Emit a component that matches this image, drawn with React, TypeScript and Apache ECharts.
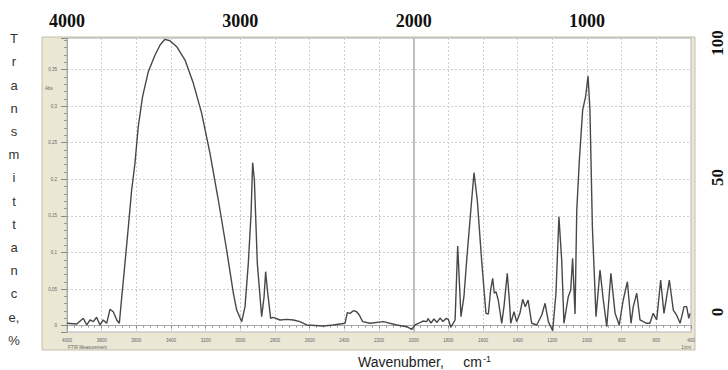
import React, { useEffect, useRef } from "react";
import * as echarts from "echarts";

// Spectrum (wavenumber in cm-1, inner "Abs" scale)
const wavenumber = [
  4000, 3944, 3906, 3886, 3867, 3848, 3829, 3810, 3791, 3771, 3752, 3733, 3713, 3698,
  3684, 3671, 3646, 3627, 3608, 3589, 3564, 3531, 3492, 3463, 3435, 3406, 3367, 3319,
  3271, 3223, 3175, 3127, 3079, 3040, 3021, 2992, 2973, 2954, 2938, 2929, 2919, 2902,
  2877, 2863, 2854, 2844, 2825, 2810, 2771, 2733, 2694, 2656, 2617, 2521, 2464, 2396,
  2383, 2367, 2348, 2329, 2314, 2294, 2252, 2175, 2098, 2040, 2011, 1992, 1963, 1946,
  1925, 1917, 1900, 1883, 1865, 1848, 1831, 1813, 1800, 1786, 1761, 1746, 1727, 1710,
  1694, 1675, 1652, 1633, 1608, 1583, 1569, 1556, 1544, 1535, 1525, 1512, 1492, 1479,
  1460, 1448, 1440, 1421, 1406, 1387, 1371, 1356, 1340, 1319, 1290, 1261, 1242, 1223,
  1198, 1179, 1162, 1146, 1133, 1108, 1094, 1083, 1069, 1059, 1044, 1025, 1008, 994,
  983, 969, 948, 925, 906, 886, 862, 838, 814, 791, 767, 746, 733, 713, 694, 675, 656,
  637, 618, 598, 575, 556, 525, 502, 483, 463, 440, 425, 413, 406,
];
const absorbance = [
  0.0033, 0.0023, 0.0101, 0.001, 0.0078, 0.0055, 0.0115, 0.001, 0.0078, 0.0033, 0.0224, 0.0191, 0.0078, 0.0033,
  0.0396, 0.0716, 0.1352, 0.1854, 0.2218, 0.2718, 0.3128, 0.347, 0.3698, 0.3834, 0.3912, 0.3893, 0.3811, 0.3629,
  0.3311, 0.2901, 0.2355, 0.1717, 0.1034, 0.0443, 0.0214, 0.0055, 0.026, 0.0852, 0.1535, 0.2227, 0.199, 0.0852,
  0.0123, 0.0396, 0.0738, 0.0488, 0.0101, 0.0115, 0.0078, 0.0087, 0.0078, 0.0055, 0.001, -0.0004, 0.001, 0.0033,
  0.0178, 0.0169, 0.0205, 0.0191, 0.0146, 0.0055, 0.0033, 0.0055, 0.001, -0.0014, -0.0049, 0.001, 0.0041, 0.0064,
  0.0055, 0.0098, 0.0037, 0.0092, 0.0044, 0.0105, 0.0057, 0.0098, 0.0087, -0.0022, 0.0078, 0.1089, 0.0123, 0.0396,
  0.0897, 0.1444, 0.209, 0.1717, 0.0897, 0.0169, 0.016, 0.0488, 0.0647, 0.0443, 0.0464, 0.0351, 0.0033, 0.026,
  0.0716, 0.0351, 0.0033, 0.0191, 0.0055, 0.0169, 0.0361, 0.026, 0.0351, 0.0033, 0.001, 0.0146, 0.0306, 0.0055,
  -0.0068, 0.0443, 0.1489, 0.0897, 0.0033, 0.0396, 0.0488, 0.0921, 0.016, 0.158, 0.2264, 0.2947, 0.3128, 0.3411,
  0.2947, 0.1352, 0.0123, 0.0761, 0.0351, -0.0014, 0.0716, 0.0169, 0.001, 0.0351, 0.0601, 0.0033, 0.026, 0.0443, 0.0078, 0.0055, 0.0033,
  0.0033, 0.0169, 0.0078, 0.0624, 0.0169, 0.0624, 0.0214, 0.0146, 0.0033, 0.026, 0.026, 0.0101, 0.0169,
];

// Tick labels
const topTickLabels = [4000, 3000, 2000, 1000];
const bottomTickLabels = [4000, 3800, 3600, 3400, 3200, 3000, 2800, 2600, 2400, 2200, 2000, 1800, 1600, 1400, 1200, 1000, 800, 600, 400];
const absTickLabels = [0, 0.05, 0.1, 0.15, 0.2, 0.25, 0.3, 0.35];
const rightTickLabels = [0, 50, 100];
const dividerAt = [2000];

const yLetters = ["T", "r", "a", "n", "s", "m", "i", "t", "t", "a", "n", "c", "e,", "%"];

const near = (list: number[], v: number) => list.find((t) => Math.abs(t - v) < 1e-6);

export default function App() {
  const ref = useRef<HTMLDivElement>(null);
  useEffect(() => {
    if (!ref.current) return;
    const chart = echarts.init(ref.current, undefined, { renderer: "svg" });
    const data = wavenumber.map((w, i) => [w, absorbance[i]]);
    chart.setOption({
      animation: false,
      backgroundColor: "#ffffff",
      grid: {
        left: 67,
        right: 37,
        top: 38,
        bottom: 38,
        show: true,
        backgroundColor: "transparent",
        borderColor: "#b4b4b4",
        borderWidth: 1,
      },
      graphic: [
        {
          type: "rect",
          z: -10,
          silent: true,
          shape: { x: 42, y: 37, width: 653, height: 313 },
          style: { fill: "#ebe7d5", stroke: "#c4bfaa", lineWidth: 1 },
        },
        {
          type: "rect",
          z: -9,
          silent: true,
          shape: { x: 67, y: 38, width: 624, height: 294 },
          style: { fill: "#ffffff" },
        },
        {
          type: "text",
          z: 10,
          style: {
            text: yLetters.join("\n"),
            x: 14,
            y: 27,
            align: "center",
            verticalAlign: "top",
            lineHeight: 23.2,
            fontFamily: "Liberation Sans, Arial, sans-serif",
            fontSize: 13,
            fill: "#333333",
          },
        },
        {
          type: "text",
          z: 10,
          style: {
            text: "{n|Wavenubmer,     cm}{s|-1}",
            x: 358,
            y: 354,
            verticalAlign: "top",
            rich: {
              n: { fontFamily: "Liberation Sans, Arial, sans-serif", fontSize: 14, fill: "#222", lineHeight: 16 },
              s: { fontFamily: "Liberation Sans, Arial, sans-serif", fontSize: 9, fill: "#222", lineHeight: 16, verticalAlign: "top", padding: [0, 0, 7, 1] },
            },
          },
        },
        {
          type: "text",
          z: 10,
          style: { text: "Abs", x: 49, y: 88, align: "center", verticalAlign: "middle", fontSize: 4.5, fill: "#666", fontFamily: "Liberation Sans, Arial, sans-serif" },
        },
        {
          type: "text",
          z: 10,
          style: { text: "FTIR Measurement", x: 68, y: 347, align: "left", verticalAlign: "middle", fontSize: 4.5, fill: "#666", fontFamily: "Liberation Sans, Arial, sans-serif" },
        },
        {
          type: "text",
          z: 10,
          style: { text: "1/cm", x: 691, y: 347, align: "right", verticalAlign: "middle", fontSize: 4.5, fill: "#666", fontFamily: "Liberation Sans, Arial, sans-serif" },
        },
      ],
      xAxis: [
        {
          type: "value",
          position: "bottom",
          min: 400,
          max: 4000,
          interval: 200,
          inverse: true,
          axisLine: { show: true, lineStyle: { color: "#a8a8a8" } },
          axisTick: { show: true, length: 3, lineStyle: { color: "#8a8a8a" } },
          minorTick: { show: true, splitNumber: 5, length: 2, lineStyle: { color: "#9a9a9a" } },
          axisLabel: {
            fontSize: 4.5,
            color: "#666",
            margin: 6,
            fontFamily: "Liberation Sans, Arial, sans-serif",
            formatter: (v: number) => (near(bottomTickLabels, v) !== undefined ? String(v) : ""),
          },
          splitLine: { show: true, lineStyle: { color: "#cdcdcd", type: [2, 2], width: 1 } },
        },
        {
          type: "value",
          position: "top",
          min: 400,
          max: 4000,
          interval: 200,
          inverse: true,
          axisLine: { show: false },
          axisTick: { show: false },
          splitLine: { show: false },
          axisLabel: {
            margin: 8,
            fontFamily: "Liberation Serif, Times New Roman, serif",
            fontWeight: "bold",
            fontSize: 18,
            color: "#111",
            formatter: (v: number) => (near(topTickLabels, v) !== undefined ? String(v) : ""),
          },
        },
      ],
      yAxis: [
        {
          type: "value",
          position: "left",
          min: -0.0086,
          max: 0.393,
          splitNumber: 8,
          axisLine: { show: true, lineStyle: { color: "#a8a8a8" } },
          axisTick: { show: true, length: 6, lineStyle: { color: "#8a8a8a" } },
          minorTick: { show: true, splitNumber: 5, length: 3, lineStyle: { color: "#9a9a9a" } },
          axisLabel: {
            fontSize: 4.5,
            color: "#666",
            margin: 10,
            fontFamily: "Liberation Sans, Arial, sans-serif",
            showMinLabel: false,
            showMaxLabel: false,
            formatter: (v: number) => {
              const t = near(absTickLabels, v);
              return t === undefined ? "" : String(t).replace(".", ",");
            },
          },
          splitLine: { show: true, lineStyle: { color: "#cdcdcd", type: [2, 2], width: 1 } },
        },
        {
          type: "value",
          position: "right",
          min: -7.43,
          max: 101.86,
          splitNumber: 2,
          axisLine: { show: false },
          axisTick: { show: false },
          splitLine: { show: false },
          axisLabel: {
            rotate: 90,
            margin: 18,
            fontFamily: "Liberation Serif, Times New Roman, serif",
            fontWeight: "bold",
            fontSize: 17,
            color: "#111",
            showMinLabel: false,
            showMaxLabel: false,
            formatter: (v: number) => (near(rightTickLabels, v) !== undefined ? String(v) : ""),
          },
        },
      ],
      series: [
        {
          type: "line",
          xAxisIndex: 0,
          yAxisIndex: 0,
          data,
          showSymbol: false,
          symbol: "none",
          lineStyle: { color: "#484848", width: 1.4 },
          z: 5,
          markLine: {
            silent: true,
            symbol: "none",
            label: { show: false },
            lineStyle: { color: "#bdbdbd", width: 2, type: "solid" },
            emphasis: { disabled: true },
            data: dividerAt.map((x) => ({ xAxis: x })),
          },
        },
      ],
    });
    return () => chart.dispose();
  }, []);
  return (
    <div
      ref={ref}
      style={{ position: "fixed", left: 0, top: 0, width: 728, height: 370 }}
    />
  );
}
